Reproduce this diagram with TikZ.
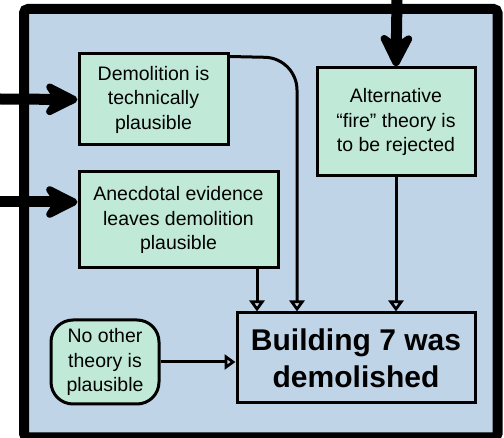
\documentclass[tikz,border=0pt]{standalone}
\usepackage{fontspec}
\setmainfont{Liberation Sans}
\usetikzlibrary{arrows.meta,calc}
\definecolor{bgblue}{RGB}{192,212,232}
\definecolor{boxgreen}{RGB}{193,233,216}
\tikzset{
  x=1pt,y=-1pt,
  claim/.style={draw=black,line width=3pt,fill=boxgreen,align=center,inner sep=0pt,
    font=\fontsize{19.5}{24.5}\selectfont},
  concl/.style={draw=black,line width=3pt,fill=bgblue,align=center,inner sep=0pt,
    font=\fontsize{30}{37}\selectfont\bfseries},
  thin/.style={line width=3pt,-{Triangle[open,length=11pt,width=15pt,line width=3pt]}},
  thick/.style={line width=11pt,-{Stealth[length=42pt,width=42pt,inset=14pt,round]}},
}
\begin{document}
\begin{tikzpicture}
\useasboundingbox (0,0) rectangle (504,438);
\draw[line width=10pt,fill=bgblue,rounded corners=4pt] (24,9) rectangle (497.5,437.5);
\node[claim,minimum width=149pt,minimum height=91pt] (A) at (153.5,99.5) {Demolition is\\technically\\plausible};
\node[claim,minimum width=199pt,minimum height=96pt] (B) at (178.5,220) {Anecdotal evidence\\leaves demolition\\plausible};
\node[claim,minimum width=158pt,minimum height=108pt] (C) at (396,122) {Alternative\\“fire” theory is\\to be rejected};
\node[claim,rounded corners=22pt,minimum width=108pt,minimum height=84pt] (D) at (105,362) {No other\\theory is\\plausible};
\node[concl,minimum width=238pt,minimum height=90pt] (E) at (356,358) {Building 7 was\\demolished};
\coordinate (inA) at (0,99);
\coordinate (inB) at (0,202);
\coordinate (inC) at (397,0);
\draw[thick] (inA) -- (A.west);
\draw[thick] (inB) -- (B.west |- inB);
\draw[thick] (inC) -- (C.north);
\coordinate (aout) at ($(A.north east)+(0,4)$);
\draw[thin,rounded corners=32pt] (aout) -- (297,58) -- (E.north -| 297,0);
\draw[thin] (B.south -| 257,0) -- (E.north -| 257,0);
\draw[thin] (C.south) -- (E.north -| C.south);
\draw[thin] (D.east) -- (E.west |- D.east);
\end{tikzpicture}
\end{document}
